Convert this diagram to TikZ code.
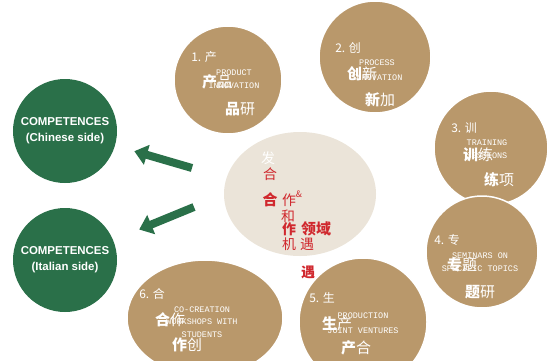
\documentclass[tikz,border=0pt]{standalone}
\usepackage{fontspec}
\setmainfont{Liberation Sans}
\newfontfamily\cjk{Noto Sans CJK SC}
\newfontfamily\mono{Liberation Mono}
\usetikzlibrary{positioning,arrows.meta}
\usetikzlibrary{shapes.geometric}
\definecolor{dgreen}{RGB}{42,112,73}
\definecolor{tanbrown}{RGB}{185,152,107}
\definecolor{beige}{RGB}{235,228,217}
\definecolor{dred}{RGB}{208,40,46}
\tikzstyle{gr}=[circle, fill=dgreen, minimum size=104bp, inner sep=0pt, text=white, align=center, font=\bfseries\fontsize{11.5}{16}\selectfont]
\tikzstyle{tn}=[circle, fill=tanbrown, draw=white, line width=1.5bp, inner sep=0pt]
\tikzstyle{num}=[inner sep=0pt, text=white, font=\cjk\fontsize{12}{14}\selectfont]
\tikzstyle{en}=[inner sep=0pt, text=white, align=center, font=\mono\fontsize{8.5}{12.5}\selectfont]
\tikzstyle{hz}=[inner sep=0pt, text=white, font=\cjk\fontsize{15}{17}\selectfont]
\tikzstyle{rz}=[inner sep=0pt, text=dred, font=\cjk\fontsize{14}{16}\selectfont]
\tikzstyle{fat}=[-{Triangle[length=13bp, width=20bp]}, line width=8bp, draw=dgreen]

\begin{document}
\begin{tikzpicture}[x=1bp, y=-1bp]
	\useasboundingbox (0,0) rectangle (549,360);

	% middle field
	\node[ellipse, fill=beige, minimum width=152bp, minimum height=124bp] (ctr) at (300,194) {};

	% six topics
	\node[tn, minimum size=108bp] (c1) at (228,80) {};
	\node[tn, minimum size=112bp] (c2) at (375,57) {};
	\node[tn, minimum size=114bp] (c3) at (491,148) {};
	\node[tn, minimum size=112bp] (c4) at (482,252) {};
	\node[tn, minimum size=128bp] (c5) at (363,322) {};
	\node[tn, ellipse, minimum width=156bp, minimum height=116bp] (c6) at (205,318) {};

	% competences
	\node[gr] (gc1) at (65,131) {COMPETENCES\\(Chinese side)};
	\node[gr] (gc2) at (65,260) {COMPETENCES\\(Italian side)};

	\coordinate (a1) at (192,168);
	\coordinate (a2) at (194,207);
	\draw[fat, shorten >=20bp] (a1) -- (gc1);
	\draw[fat, shorten >=28bp] (a2) -- (gc2);

	% 1
	\node[num] (l1) at (204,57) {1. 产};
	\node[en] (e1) at (234,79) {PRODUCT\\INNOVATION};
	\node[hz] (b1) at (217,82) {{\bfseries 产}品};
	\node[hz] (s1) at (240,109) {{\bfseries 品}研};
	% 2
	\node[num] (l2) at (348,48) {2. 创};
	\node[en] (e2) at (377,70) {PROCESS\\[2.5bp]INNOVATION};
	\node[hz] (b2) at (362,74) {{\bfseries 创}新};
	\node[hz] (s2) at (380,100) {{\bfseries 新}加};
	% 3
	\node[num] (l3) at (464,128) {3. 训};
	\node[en] (e3) at (487,149) {TRAINING\\SESSIONS};
	\node[hz] (b3) at (478,155) {{\bfseries 训}练};
	\node[hz] (s3) at (499,180) {{\bfseries 练}项};
	% 4
	\node[num] (l4) at (447,240) {4. 专};
	\node[en] (e4) at (480,262) {SEMINARS ON\\SPECIFIC TOPICS};
	\node[hz] (b4) at (462,265) {{\bfseries 专}题};
	\node[hz] (s4) at (480,292) {{\bfseries 题}研};
	% 5
	\node[num] (l5) at (322,298) {5. 生};
	\node[en] (e5) at (363,323) {PRODUCTION\\[3bp]JOINT VENTURES};
	\node[hz] (b5) at (337,324) {{\bfseries 生}产};
	\node[hz] (s5) at (356,348) {{\bfseries 产}合};
	% 6
	\node[num] (l6) at (152,294) {6. 合};
	\node[en] (e6) at (202,322) {CO-CREATION\\WORKSHOPS WITH\\STUDENTS};
	\node[hz] (b6) at (170,320) {{\bfseries 合}作};
	\node[hz] (s6) at (187,345) {{\bfseries 作}创};

	% middle words
	\node[rz, text=white] (m0) at (268,158) {发};
	\node[rz] (m1) at (270,174) {合};
	\node[rz, font=\cjk\bfseries\fontsize{15}{17}\selectfont] (m2) at (270,200) {合};
	\node[rz] (m3) at (289,200) {作};
	\node[rz, font=\cjk\fontsize{9}{10}\selectfont] (m4) at (299,194) {\&};
	\node[rz] (m5) at (288,216) {和};
	\node[rz, font=\cjk\bfseries\fontsize{14}{16}\selectfont] (m6) at (289,229) {作};
	\node[rz, font=\cjk\bfseries\fontsize{15}{17}\selectfont] (m7) at (316,229) {领域};
	\node[rz] (m8) at (289,244) {机};
	\node[rz] (m9) at (307,244) {遇};
	\node[rz, font=\cjk\bfseries\fontsize{14}{16}\selectfont] (m10) at (308,272) {遇};
\end{tikzpicture}
\end{document}
